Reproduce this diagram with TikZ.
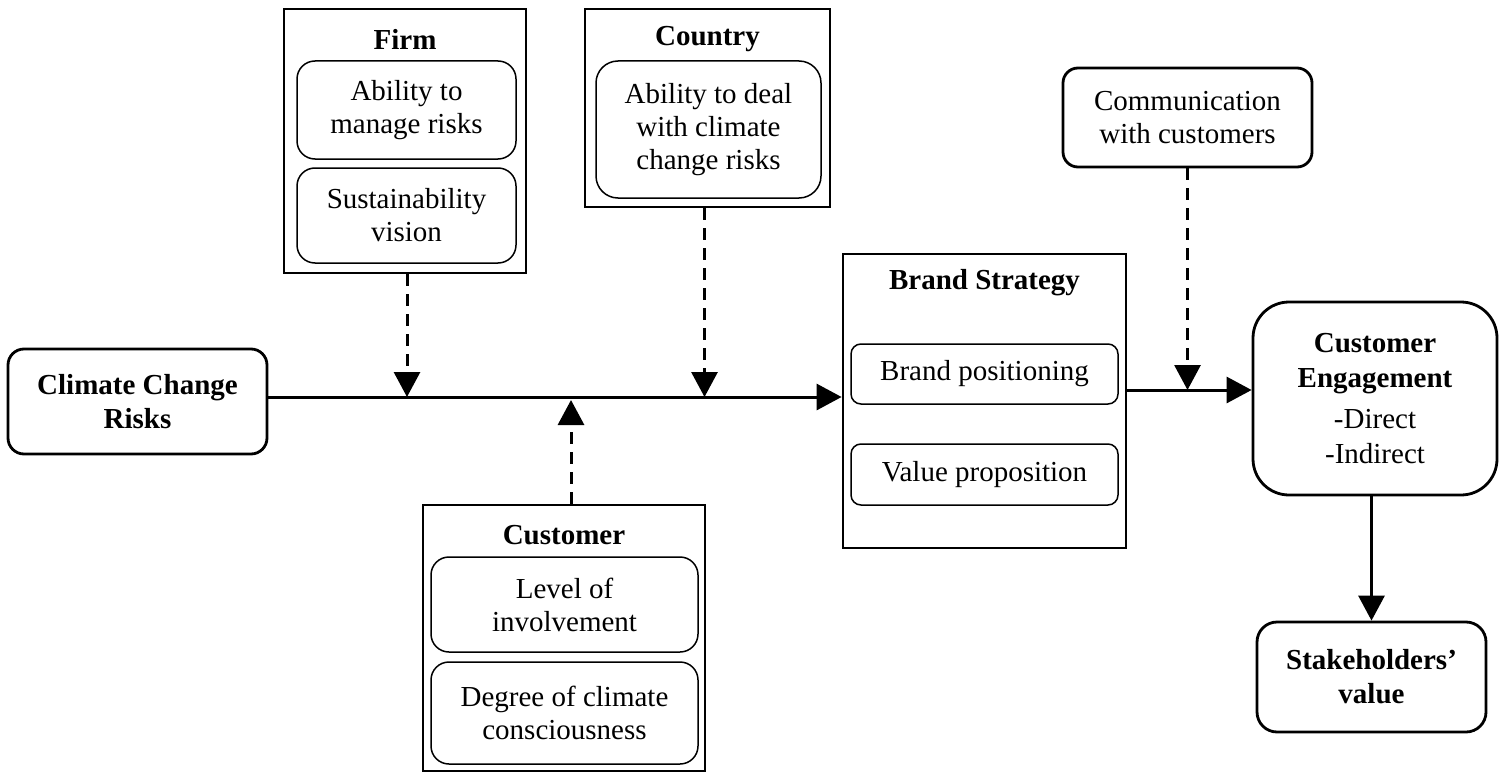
\documentclass[tikz,border=0pt]{standalone}
\usepackage{fontspec}
\setmainfont{Liberation Serif}
\usetikzlibrary{arrows.meta}

\begin{document}
\begin{tikzpicture}[x=1pt,y=-1pt,
        every node/.style={font=\fontsize{29pt}{33pt}\selectfont},
        box/.style={draw,line width=2.8pt,inner sep=0pt,align=center},
        round/.style={box,rounded corners=16pt},
        sub/.style={draw,line width=1.5pt,rounded corners=18pt,inner sep=0pt,align=center},
        title/.style={font=\fontsize{29pt}{34pt}\selectfont\bfseries,align=center},
        arr/.style={line width=3pt,-{Triangle[length=25pt,width=26pt]}},
        dasharr/.style={arr,dash pattern=on 12pt off 8pt}]
        \useasboundingbox (0,0) rectangle (1503,773);
        % moderators
        \node[box,minimum width=242pt,minimum height=264pt] (firm) at (405,141) {};
        \node[title] (firmt) at (405,39) {Firm};
        \node[sub,minimum width=219pt,minimum height=98pt] (firma) at (406.5,110) {Ability to\\manage risks};
        \node[sub,minimum width=219pt,minimum height=95pt] (firmb) at (406.5,215.5) {Sustainability\\vision};
        \node[box,minimum width=245pt,minimum height=198pt] (country) at (707.5,108) {};
        \node[title] (countryt) at (707.5,39) {Country};
        \node[sub,minimum width=225pt,minimum height=137pt,rounded corners=22pt] (countrya) at (708.5,129.5) {Ability to deal\\with climate\\change risks};
        \node[box,minimum width=282pt,minimum height=266pt] (cust) at (564,638) {};
        \node[title] (custt) at (564,535) {Customer};
        \node[sub,minimum width=267pt,minimum height=95pt] (custa) at (564.5,604.5) {Level of\\involvement};
        \node[sub,minimum width=267pt,minimum height=102pt] (custb) at (564.5,713) {Degree of climate\\consciousness};
        \node[round,minimum width=249pt,minimum height=99pt,rounded corners=15pt] (comm) at (1187.5,117.5) {Communication\\with customers};
        % main chain
        \node[round,title,minimum width=259pt,minimum height=105pt] (clim) at (137.5,401.5) {Climate Change\\Risks};
        \node[box,minimum width=283pt,minimum height=294pt] (brand) at (984.5,401) {};
        \node[title] (brandt) at (984.5,283) {Brand Strategy};
        \node[sub,minimum width=267pt,minimum height=60pt,rounded corners=10pt] (brandp) at (984.5,374) {Brand positioning};
        \node[sub,minimum width=267pt,minimum height=61pt,rounded corners=10pt] (brandv) at (984.5,474.5) {Value proposition};
        \node[round,minimum width=244pt,minimum height=193pt,rounded corners=36pt] (ce) at (1375,398.5) {\textbf{Customer}\\[2pt]\textbf{Engagement}\\[8pt]-Direct\\[2pt]-Indirect};
        \node[round,title,minimum width=229pt,minimum height=110pt,rounded corners=20pt] (stake) at (1371.5,677) {Stakeholders’\\value};
        % connectors
        \coordinate (main) at ([yshift=4.5pt]clim.east);
        \coordinate (out) at ([yshift=8.5pt]ce.west);
        \draw[arr] (main) -- (main -| brand.west);
        \draw[dasharr] ([xshift=2pt]firm.south) -- ([xshift=2pt]firm.south |- main);
        \draw[dasharr] ([xshift=-3pt]country.south) -- ([xshift=-3pt]country.south |- main);
        \draw[dasharr,shorten >=3pt] ([xshift=7pt]cust.north) -- ([xshift=7pt]cust.north |- main);
        \draw[arr] (out -| brand.east) -- (out);
        \draw[dasharr] (comm.south) -- (comm.south |- out);
        \draw[arr] (stake.north |- ce.south) -- (stake.north);
    \end{tikzpicture}
\end{document}
